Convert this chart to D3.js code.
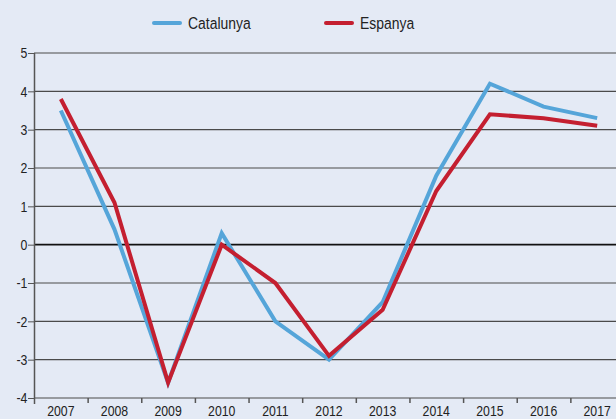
<!DOCTYPE html>
<html>
<head>
<meta charset="utf-8">
<script src="https://cdn.jsdelivr.net/npm/d3@7"></script>
<style>
  body { margin: 0; background: #e4eaf5; }
  svg { display: block; font-family: "Liberation Sans", Arial, sans-serif; }
</style>
</head>
<body>
<div id="chart"></div>
<script>
var years = ["2007","2008","2009","2010","2011","2012","2013","2014","2015","2016","2017"]
var catalunya = [3.5, 0.4, -3.6, 0.3, -2.0, -3.0, -1.5, 1.8, 4.2, 3.6, 3.3]
var espanya = [3.8, 1.1, -3.6, 0.0, -1.0, -2.9, -1.7, 1.4, 3.4, 3.3, 3.1]
var yTicks = [-4, -3, -2, -1, 0, 1, 2, 3, 4, 5]

var series = [
  {name: "Catalunya", values: catalunya, color: "#55a5d9"},
  {name: "Espanya", values: espanya, color: "#c41f30"}
]

var W = 616, H = 419
var margin = {top: 53, right: 0, bottom: 21, left: 34}
var width = 590, height = H - margin.top - margin.bottom
var squeeze = "scale(0.82,1)"

var svg = d3.select("#chart").append("svg")
    .attr("width", W)
    .attr("height", H)

svg.append("rect").attr("width", W).attr("height", H).attr("fill", "#e4eaf5")

var g = svg.append("g")
    .attr("transform", "translate(" + margin.left + "," + margin.top + ")")

var x = d3.scaleBand().domain(years).range([0, width])
var y = d3.scaleLinear().domain([-4, 5]).range([height, 0])

// grid lines
g.append("g")
  .selectAll("line")
  .data(yTicks)
  .enter().append("line")
    .attr("x1", 0)
    .attr("x2", W - margin.left)
    .attr("y1", d => y(d))
    .attr("y2", d => y(d))
    .attr("stroke", d => d == 0 ? "#111" : "#4a4a4a")
    .attr("stroke-width", d => d == 0 ? 1.6 : 1.2)

// y axis
var yAxis = g.append("g")
    .call(d3.axisLeft(y).tickValues(yTicks).tickSize(6).tickPadding(4).tickFormat(d => String(d)))
yAxis.select(".domain").attr("stroke", "#555").attr("stroke-width", 1.5).attr("d", "M0.5," + y(-4) + "V" + y(5))
yAxis.selectAll(".tick line").attr("stroke", "#555")
yAxis.selectAll("text")
    .attr("font-size", 15)
    .attr("fill", "#222")
    .attr("x", -8)
    .attr("transform", squeeze)

// x axis with ticks at the band edges
var xAxis = g.append("g")
    .attr("transform", "translate(0," + height + ")")
    .call(d3.axisBottom(x).tickSize(0).tickPadding(7))
xAxis.select(".domain").remove()
xAxis.selectAll("text").attr("font-size", 15).attr("fill", "#222").attr("transform", squeeze)
xAxis.selectAll(".edge")
  .data(years.slice(1))
  .enter().append("line")
    .attr("x1", d => x(d) + 0.5)
    .attr("x2", d => x(d) + 0.5)
    .attr("y1", 0)
    .attr("y2", 5)
    .attr("stroke", "#555")
    .attr("stroke-width", 1.5)
xAxis.append("line")
    .attr("x1", 0.5).attr("x2", 0.5).attr("y1", 0).attr("y2", 6)
    .attr("stroke", "#555").attr("stroke-width", 1.5)

// lines
var line = d3.line()
    .x((d, i) => x(years[i]) + x.bandwidth() / 2)
    .y(d => y(d))

g.selectAll(".series")
  .data(series)
  .enter().append("path")
    .attr("d", d => line(d.values))
    .attr("fill", "none")
    .attr("stroke", d => d.color)
    .attr("stroke-width", 4)
    .attr("stroke-linejoin", "miter")

// legend
var legend = svg.append("g")
var lx = [154, 326]
series.forEach(function (s, i) {
  legend.append("line")
    .attr("x1", lx[i]).attr("x2", lx[i] + 26)
    .attr("y1", 23).attr("y2", 23)
    .attr("stroke", s.color)
    .attr("stroke-width", 4)
    .attr("stroke-linecap", "round")
  legend.append("text")
    .attr("transform", "translate(" + (lx[i] + 34) + ",29) " + squeeze)
    .attr("font-size", 17)
    .attr("fill", "#222")
    .text(s.name)
})
</script>
</body>
</html>
